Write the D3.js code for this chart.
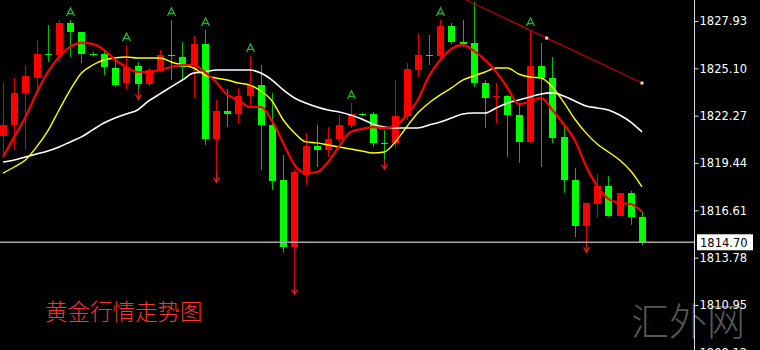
<!DOCTYPE html>
<html lang="zh">
<head>
<meta charset="utf-8">
<title>黄金行情走势图</title>
<script src="https://d3js.org/d3.v7.min.js"></script>
<style>
  body { margin: 0; background: #000; overflow: hidden; }
  .axis text { font-family: "DejaVu Sans", sans-serif; font-size: 11.5px; fill: #fff; }
  .axis path, .axis line { stroke: #d8d8d8; }
</style>
</head>
<body>
<script>
// bar prices (index 0 = leftmost bar)
var opens  = [1821.06,1821.71,1823.63,1824.52,1825.96,1825.90,1827.81,1827.27,1825.96,1825.96,
              1825.12,1824.22,1825.24,1824.16,1824.94,1825.90,1825.78,1825.30,1826.55,1820.88,
              1822.55,1822.37,1823.45,1824.10,1821.71,1818.43,1814.42,1818.73,1820.46,1820.22,
              1820.88,1821.71,1822.37,1822.37,1820.64,1820.64,1822.25,1825.00,1825.90,1825.84,
              1827.63,1826.67,1826.61,1824.22,1823.39,1823.45,1822.31,1820.70,1825.24,1824.52,
              1821.00,1818.43,1815.68,1816.99,1818.07,1816.27,1817.65,1816.21];
var highs  = [1824.22,1824.52,1825.30,1826.79,1827.69,1827.99,1827.99,1827.27,1826.10,1826.20,
              1825.60,1826.49,1825.48,1825.12,1826.20,1827.99,1826.67,1827.03,1827.39,1823.21,
              1823.87,1823.93,1825.84,1825.30,1823.63,1819.92,1819.02,1821.24,1821.71,1821.59,
              1822.31,1823.03,1822.45,1822.49,1821.41,1824.40,1825.42,1827.21,1827.09,1827.99,
              1827.81,1827.99,1829.07,1824.40,1824.22,1823.51,1823.03,1827.39,1826.61,1825.78,
              1821.65,1819.14,1817.05,1818.79,1818.67,1817.65,1817.77,1816.51];
var lows   = [1819.80,1820.22,1820.22,1823.81,1825.48,1825.48,1825.78,1825.42,1825.84,1824.70,
              1823.98,1823.81,1823.81,1824.04,1824.88,1824.40,1824.40,1823.33,1820.52,1818.85,
              1821.59,1821.83,1822.85,1819.02,1817.83,1814.06,1812.15,1818.13,1819.20,1819.80,
              1820.64,1821.53,1822.25,1820.40,1819.62,1820.34,1822.01,1824.58,1825.30,1825.72,
              1826.55,1826.38,1823.98,1821.53,1821.83,1819.80,1819.44,1820.64,1819.20,1820.64,
              1817.65,1815.02,1814.66,1816.21,1816.21,1816.27,1815.74,1814.54];
var closes = [1821.71,1823.63,1824.64,1825.96,1825.90,1827.81,1827.27,1825.96,1825.90,1825.18,
              1824.10,1825.18,1824.16,1825.00,1825.90,1825.84,1825.18,1826.55,1820.88,1822.55,
              1822.37,1823.45,1824.10,1821.71,1818.37,1814.42,1818.90,1820.46,1820.22,1820.88,
              1821.71,1822.37,1822.31,1820.64,1820.58,1822.25,1825.06,1825.90,1825.84,1827.63,
              1826.67,1826.61,1824.22,1823.33,1823.45,1822.31,1820.70,1825.24,1824.52,1820.94,
              1818.43,1815.68,1817.05,1818.07,1816.27,1817.65,1816.21,1814.70];

// moving average lines, value at each bar
var maRed    = [1819.80,1821.00,1822.19,1823.63,1824.88,1825.78,1826.38,1826.62,1826.56,1826.20,
                1825.60,1825.18,1824.88,1824.88,1825.00,1825.18,1825.30,1825.30,1824.88,1824.28,
                1823.51,1823.21,1822.79,1822.79,1821.95,1820.64,1819.32,1818.84,1818.90,1819.50,
                1820.46,1821.30,1821.47,1821.59,1821.53,1821.65,1822.31,1823.21,1824.64,1825.60,
                1826.26,1826.50,1826.14,1825.60,1824.88,1823.93,1822.97,1823.09,1823.33,1822.61,
                1821.77,1820.82,1819.26,1818.07,1817.29,1817.05,1816.99,1816.51];
var maYellow = [1818.84,1819.20,1819.62,1820.40,1821.36,1822.61,1823.81,1824.82,1825.30,1825.60,
                1825.72,1825.78,1825.72,1825.72,1825.72,1825.48,1825.30,1825.12,1824.70,1824.52,
                1824.40,1824.22,1824.10,1823.75,1823.15,1822.01,1821.24,1820.70,1820.64,1820.52,
                1820.40,1820.28,1820.16,1820.04,1820.10,1820.70,1821.59,1822.43,1823.03,1823.51,
                1823.93,1824.40,1824.64,1824.88,1825.12,1825.12,1824.76,1824.58,1824.52,1823.99,
                1823.09,1822.07,1821.24,1820.58,1820.10,1819.62,1818.96,1818.01];
var maWhite  = [1819.50,1819.62,1819.80,1819.98,1820.16,1820.40,1820.70,1821.00,1821.42,1821.83,
                1822.13,1822.37,1822.61,1823.15,1823.57,1823.99,1824.40,1824.82,1824.88,1825.00,
                1825.00,1825.00,1825.00,1824.82,1824.40,1823.81,1823.33,1823.03,1822.79,1822.61,
                1822.49,1822.31,1822.07,1821.77,1821.59,1821.53,1821.53,1821.53,1821.71,1821.89,
                1822.13,1822.37,1822.43,1822.43,1822.73,1823.03,1823.21,1823.39,1823.57,1823.63,
                1823.45,1823.15,1822.85,1822.73,1822.61,1822.31,1821.89,1821.30];

// price axis and markers
var priceTicks = [1827.93, 1825.10, 1822.27, 1819.44, 1816.61, 1813.78, 1810.95, 1808.12];
var lastPrice = 1814.70;
var upArrows = [6, 11, 15, 18, 22, 31, 39, 47];
var downArrows = [12, 19, 26, 34, 52];
var trendIdx = [41.3, 48.5, 57];
var trendPrice = [1829.19, 1826.91, 1824.22];

var w = 760;
var h = 350;
var axisX = 694;
var bodyW = 7;

var svg = d3.select("body").append("svg").attr("width", w).attr("height", h);
svg.append("rect").attr("width", w).attr("height", h).attr("fill", "#000");

var xScale = d3.scaleLinear().domain([0, opens.length - 1]).range([3, 642]);
var yScale = d3.scaleLinear().domain([1827.93, 1810.95]).range([21, 305]);

// watermark behind everything
svg.append("text")
   .attr("x", 631).attr("y", 335)
   .attr("font-family", "'Noto Sans CJK SC', sans-serif")
   .attr("font-weight", 300)
   .attr("font-size", 38)
   .attr("fill", "#585858")
   .text("汇外网");

var bars = d3.range(opens.length);
var up = function(i) { return closes[i] >= opens[i]; };
var col = function(i) { return up(i) ? "#ff0000" : "#00ff00"; };

// wicks
svg.append("g").selectAll("line")
   .data(bars).enter().append("line")
   .attr("x1", function(i) { return Math.round(xScale(i)) + 0.5; })
   .attr("x2", function(i) { return Math.round(xScale(i)) + 0.5; })
   .attr("y1", function(i) { return yScale(highs[i]); })
   .attr("y2", function(i) { return yScale(lows[i]); })
   .attr("stroke", function(i) { return up(i) ? "#e00000" : "#00c000"; })
   .attr("stroke-width", 1);

// bodies
svg.append("g").selectAll("rect")
   .data(bars).enter().append("rect")
   .attr("x", function(i) { return Math.round(xScale(i)) - 3; })
   .attr("width", bodyW)
   .attr("y", function(i) { return yScale(Math.max(opens[i], closes[i])); })
   .attr("height", function(i) {
      return Math.max(1.5, Math.abs(yScale(opens[i]) - yScale(closes[i])));
   })
   .attr("fill", col)
   .attr("shape-rendering", "crispEdges");

// moving averages
function drawLine(vals, color, width) {
  var line = d3.line()
               .x(function(d, i) { return xScale(i); })
               .y(function(d) { return yScale(d); })
               .curve(d3.curveMonotoneX);
  svg.append("path").datum(vals)
     .attr("d", line)
     .attr("fill", "none")
     .attr("stroke", color)
     .attr("stroke-width", width);
}
drawLine(maWhite, "#ffffff", 1.6);
drawLine(maYellow, "#ffff00", 1.4);
drawLine(maRed, "#ff0000", 2.2);

// fractal arrows
svg.append("g").selectAll("path")
   .data(upArrows).enter().append("path")
   .attr("transform", function(i) {
      return "translate(" + (Math.round(xScale(i)) + 0.5) + "," + (yScale(highs[i]) - 8) + ")";
   })
   .attr("d", "M-4,4L0,-4L4,4M-2.5,1.5L2.5,1.5")
   .attr("fill", "none").attr("stroke", "#22b822").attr("stroke-width", 1.3);

svg.append("g").selectAll("path")
   .data(downArrows).enter().append("path")
   .attr("transform", function(i) {
      return "translate(" + (Math.round(xScale(i)) + 0.5) + "," + (yScale(lows[i]) + 7) + ")";
   })
   .attr("d", "M-3,-2.5L0,2.5L3,-2.5M0,-7L0,2")
   .attr("fill", "none").attr("stroke", "#d02020").attr("stroke-width", 1.3);

// trend line
svg.append("line")
   .attr("x1", xScale(trendIdx[0])).attr("y1", yScale(trendPrice[0]))
   .attr("x2", xScale(trendIdx[2])).attr("y2", yScale(trendPrice[2]))
   .attr("stroke", "#c00000").attr("stroke-width", 1.2);
svg.append("g").selectAll("rect")
   .data([1, 2]).enter().append("rect")
   .attr("x", function(k) { return xScale(trendIdx[k]) - 1.5; })
   .attr("y", function(k) { return yScale(trendPrice[k]) - 1.5; })
   .attr("width", 3).attr("height", 3)
   .attr("fill", "#ffd0d0");

// current price line
svg.append("line")
   .attr("x1", 0).attr("x2", axisX)
   .attr("y1", yScale(lastPrice)).attr("y2", yScale(lastPrice))
   .attr("stroke", "#a8a8a8").attr("stroke-width", 1.5);

// price axis
var yAxis = d3.axisRight(yScale)
              .tickValues(priceTicks)
              .tickFormat(d3.format(".2f"))
              .tickSize(4)
              .tickPadding(1);
var ax = svg.append("g")
   .attr("class", "axis")
   .attr("transform", "translate(" + (axisX + 0.5) + ",0)")
   .call(yAxis);
ax.select(".domain").attr("d", "M0,0V" + h);

// current price label
var ly = yScale(lastPrice);
svg.append("rect")
   .attr("x", axisX + 3).attr("y", ly - 8)
   .attr("width", 56).attr("height", 16)
   .attr("fill", "#fff");
svg.append("text")
   .attr("x", axisX + 6).attr("y", ly + 4.5)
   .attr("font-family", "'DejaVu Sans', sans-serif")
   .attr("font-size", 11.5)
   .attr("fill", "#000")
   .text(d3.format(".2f")(lastPrice));

// title
svg.append("text")
   .attr("x", 45).attr("y", 320)
   .attr("font-family", "'Noto Sans CJK SC', sans-serif")
   .attr("font-weight", 300)
   .attr("font-size", 22.5)
   .attr("fill", "#ff3333")
   .text("黄金行情走势图");
</script>
</body>
</html>
